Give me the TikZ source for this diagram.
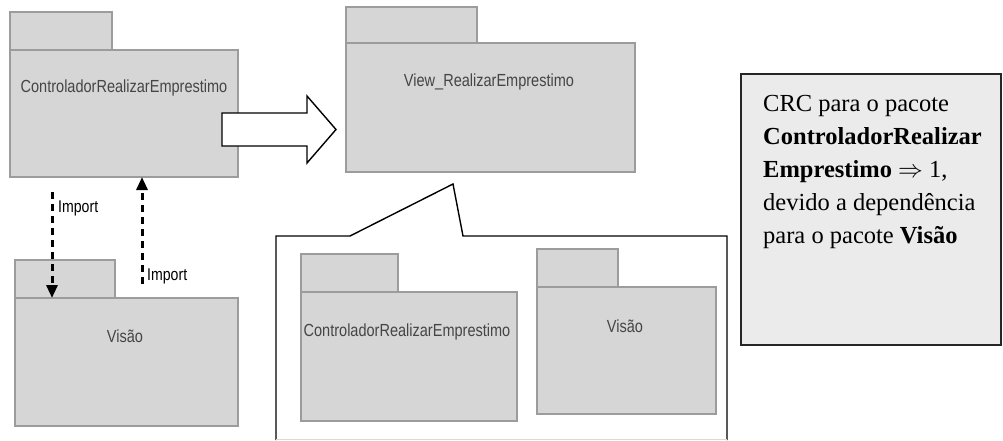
\documentclass[tikz,border=0pt]{standalone}
\usepackage{fontspec}
\setmainfont{Liberation Serif}
\newfontfamily\pkgfont[FakeStretch=0.83]{Liberation Sans}
\usetikzlibrary{arrows.meta}
\definecolor{pkgfill}{HTML}{D6D6D6}
\definecolor{pkgline}{HTML}{9C9C9C}
\definecolor{pkgtxt}{HTML}{454545}
\definecolor{crcfill}{HTML}{EBEBEB}
\tikzset{
  pkg/.style={draw=pkgline, fill=pkgfill, line width=2.2pt, inner sep=0pt, outer sep=0pt, anchor=north west},
  pkgtext/.style={text=pkgtxt, font=\pkgfont\fontsize{17.5}{20}\selectfont, inner sep=0pt},
  implabel/.style={text=black, font=\pkgfont\fontsize{17}{20}\selectfont, inner sep=0pt, anchor=west},
  importarrow/.style={draw=black, line width=3pt, dash pattern=on 7pt off 5pt, -{Triangle[length=13pt,width=11pt]}},
  crcline/.style={font=\fontsize{24.5}{30}\selectfont, inner sep=0pt, anchor=base west},
  outline/.style={draw=black, line width=1.4pt}
}
\begin{document}
\begin{tikzpicture}[x=1pt,y=-1pt]
\useasboundingbox (0,0) rectangle (1003,440);

% Package ControladorRealizarEmprestimo (top-left)
\node[pkg, minimum width=102, minimum height=38] (c1tab) at (10,12) {};
\node[pkg, minimum width=228, minimum height=127] (c1body) at (10,50) {};
\node[pkgtext] (c1text) at (124,88) {ControladorRealizarEmprestimo};

% Package View_RealizarEmprestimo
\node[pkg, minimum width=131, minimum height=36] (vwtab) at (346,7) {};
\node[pkg, minimum width=289, minimum height=129] (vwbody) at (346,43) {};
\node[pkgtext] (vwtext) at (489,82) {View\_RealizarEmprestimo};

% Package Visao (bottom-left)
\node[pkg, minimum width=100, minimum height=38] (vstab) at (15,260) {};
\node[pkg, minimum width=223, minimum height=128] (vsbody) at (15,298) {};
\node[pkgtext] (vstext) at (125,336) {Visão};

% Block arrow
\draw[outline, fill=white] (222,113) -- (307,113) -- (307,96) -- (336,129.5) -- (307,163) -- (307,146) -- (222,146) -- cycle;

% Import arrows
\coordinate (a1s) at (52,192);
\coordinate (a2s) at (142,284);
\draw[importarrow] (a1s) -- (a1s |- vsbody.north);
\draw[importarrow] (a2s) -- (a2s |- c1body.south);
\node[implabel] (imp1) at (58,208) {Import};
\node[implabel] (imp2) at (147,276) {Import};

% Callout frame
\draw[outline, line join=miter] (276,440) -- (276,236) -- (350,236) -- (453,184) -- (463,236) -- (727,236) -- (727,440);
\draw[draw=black!15, line width=1pt] (276,439.5) -- (727,439.5);

% Inner packages
\node[pkg, minimum width=97, minimum height=38] (iatab) at (301,254) {};
\node[pkg, minimum width=216, minimum height=129] (iabody) at (301,292) {};
\node[pkgtext] (iatext) at (407,332) {ControladorRealizarEmprestimo};

\node[pkg, minimum width=81, minimum height=38] (ibtab) at (537,249) {};
\node[pkg, minimum width=179, minimum height=127] (ibbody) at (537,287) {};
\node[pkgtext] (ibtext) at (625,326) {Visão};

% CRC box
\node[draw=black!85, line width=1.6pt, fill=crcfill, inner sep=0pt, outer sep=0pt, anchor=north west, minimum width=260, minimum height=271] (crc) at (741,74) {};
\node[crcline] (crc1) at (763,111) {CRC para o pacote};
\node[crcline] (crc2) at (763,144) {\textbf{ControladorRealizar}};
\node[crcline] (crc3) at (763,177) {\textbf{Emprestimo} $\Rightarrow$ 1,};
\node[crcline] (crc4) at (763,210) {devido a dependência};
\node[crcline] (crc5) at (763,243) {para o pacote \textbf{Visão}};
\end{tikzpicture}
\end{document}
